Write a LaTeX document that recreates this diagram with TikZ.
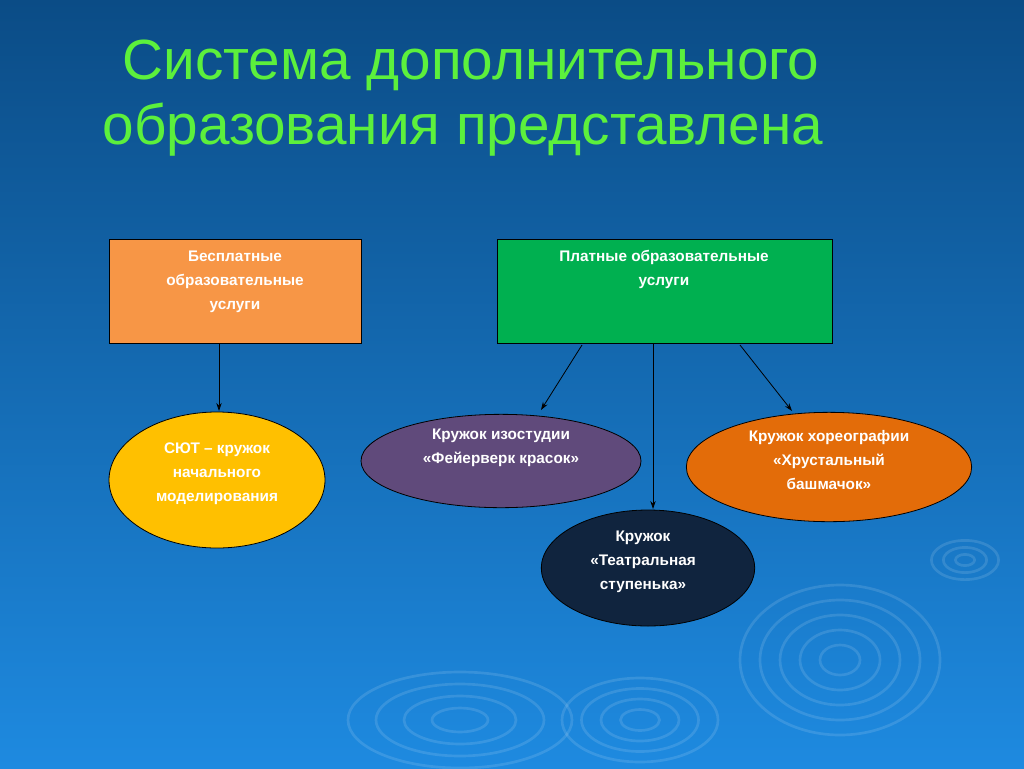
\documentclass[tikz,border=0pt]{standalone}
\usepackage{fontspec}
\setmainfont{Liberation Sans}
\usetikzlibrary{shapes.geometric,arrows.meta}
\definecolor{bgtop}{HTML}{0B4C86}
\definecolor{bgbot}{HTML}{1E8AE0}
\definecolor{ttl}{HTML}{5CF03C}
\definecolor{corange}{HTML}{F79646}
\definecolor{cgreen}{HTML}{00B050}
\definecolor{cyellow}{HTML}{FFC000}
\definecolor{cpurple}{HTML}{604A7B}
\definecolor{cdorange}{HTML}{E36C09}
\definecolor{cnavy}{HTML}{10243E}
\tikzset{
 lbl/.style={text=white,font=\bfseries\fontsize{11.5}{18}\selectfont,align=center},
 box/.style={draw=black,line width=0.6pt},
 ell/.style={ellipse,draw=black,line width=0.6pt,inner sep=0pt},
 arr/.style={draw=black,line width=0.6pt,-{Stealth[length=6pt,width=4pt]}},
 ripple/.style={draw=white,opacity=0.12,line width=2pt},
 ttlstyle/.style={anchor=west,font=\fontsize{42.5}{50}\selectfont}
}
\begin{document}
\begin{tikzpicture}[x=0.75pt,y=-0.75pt]
\useasboundingbox (0,0) rectangle (1024,768);
\shade[top color=bgtop,bottom color=bgbot] (0,0) rectangle (1024,768);
% ripples
\foreach \r in {20,40,60,80,100} {\draw[ripple] (840,660) ellipse ({\r} and {\r*0.75});}
\foreach \r in {15,30,45,60} {\draw[ripple] (640,720) ellipse ({\r*1.3} and {\r*0.7});}
\foreach \r in {20,40,60,80} {\draw[ripple] (460,720) ellipse ({\r*1.4} and {\r*0.6});}
\foreach \r in {8,18,28} {\draw[ripple] (965,560) ellipse ({\r*1.2} and {\r*0.7});}
% title
\node (t1) [ttlstyle,text=ttl] at (118,65) {Система дополнительного};
\node (t2) [ttlstyle,text=ttl] at (98,130) {образования представлена};
% boxes
\draw[box,fill=corange] (109,239) rectangle (361,343);
\node (free) [lbl,anchor=north] at (235,246) {Бесплатные\\образовательные\\услуги};
\draw[box,fill=cgreen] (497,239) rectangle (832,343);
\node (paid) [lbl,anchor=north] at (664,246) {Платные образовательные\\услуги};
% ellipses
\node (e1) [ell,fill=cyellow,minimum width=162pt,minimum height=102pt] at (217,480) {};
\node[lbl,anchor=north] at (217,438) {СЮТ – кружок\\начального\\моделирования};
\node (e2) [ell,fill=cpurple,minimum width=210pt,minimum height=70pt] at (501,461) {};
\node[lbl,anchor=north] at (501,424) {Кружок изостудии\\«Фейерверк красок»};
\node (e3) [ell,fill=cdorange,minimum width=214pt,minimum height=82pt] at (829,467) {};
\node[lbl,anchor=north] at (829,426) {Кружок хореографии\\«Хрустальный\\башмачок»};
\node (e4) [ell,fill=cnavy,minimum width=160pt,minimum height=87pt] at (648,568) {};
\node[lbl,anchor=north] at (643,526) {Кружок\\«Театральная\\ступенька»};
% arrows
\coordinate (a1) at (219,343); \coordinate (b1) at (219,411);
\coordinate (a2) at (582,345); \coordinate (b2) at (541,410);
\coordinate (a3) at (653,343); \coordinate (b3) at (653,509);
\coordinate (a4) at (740,345); \coordinate (b4) at (792,411);
\draw[arr] (a1) -- (b1);
\draw[arr] (a2) -- (b2);
\draw[arr] (a3) -- (b3);
\draw[arr] (a4) -- (b4);
\end{tikzpicture}
\end{document}
